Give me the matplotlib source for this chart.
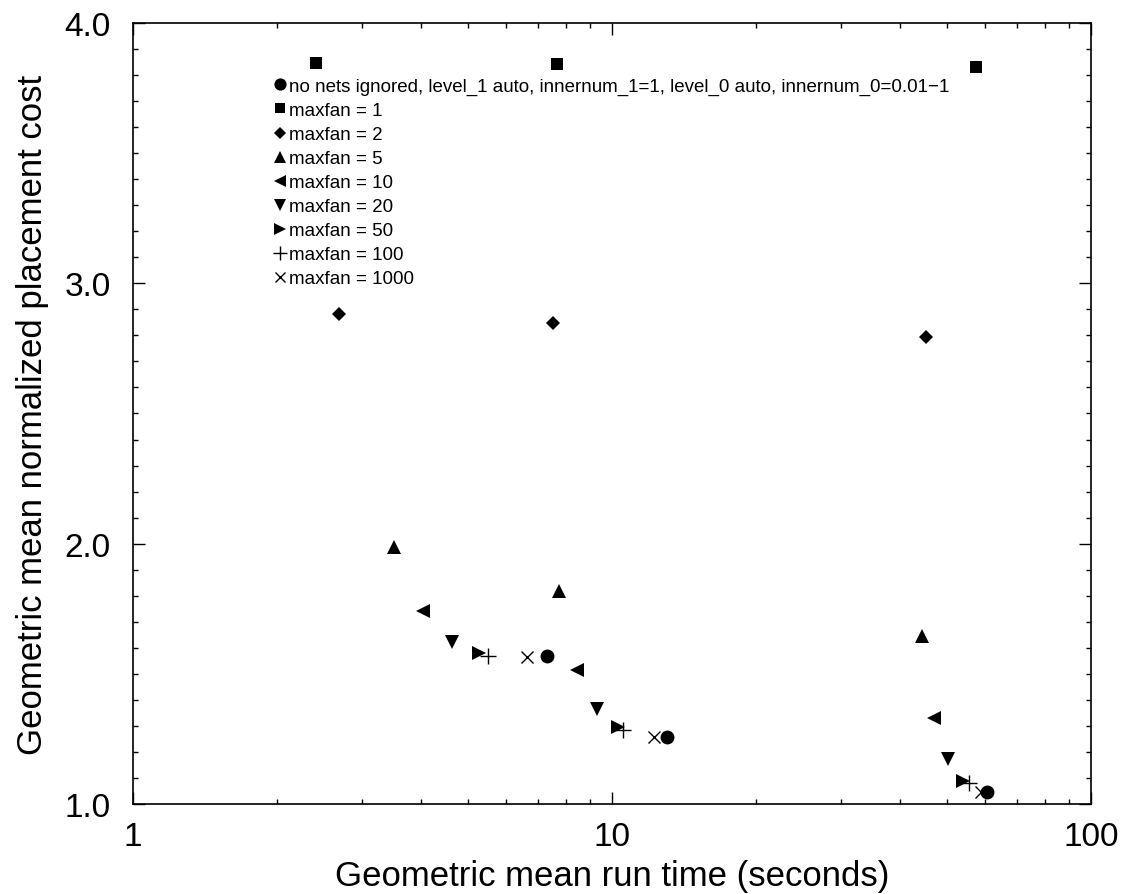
import numpy as np
import matplotlib
matplotlib.use("Agg")
import matplotlib.pyplot as plt
from matplotlib.ticker import LogLocator, MultipleLocator, FixedLocator, FixedFormatter, NullFormatter

plt.rcParams['font.family'] = ['Liberation Sans', 'DejaVu Sans']

# run time (s) and normalized cost for each maxfan setting, three circuits each
t_base = [7.33, 13.0, 60.7]
c_base = [1.567, 1.259, 1.045]
t_f1 = [2.41, 7.68, 57.5]
c_f1 = [3.846, 3.843, 3.831]
t_f2 = [2.69, 7.53, 45.3]
c_f2 = [2.882, 2.848, 2.794]
t_f5 = [3.51, 7.75, 44.4]
c_f5 = [1.986, 1.819, 1.646]
t_f10 = [4.04, 8.47, 47.0]
c_f10 = [1.742, 1.516, 1.330]
t_f20 = [4.64, 9.32, 50.4]
c_f20 = [1.623, 1.365, 1.173]
t_f50 = [5.28, 10.31, 54.0]
c_f50 = [1.579, 1.295, 1.090]
t_f100 = [5.52, 10.53, 55.5]
c_f100 = [1.570, 1.285, 1.079]
t_f1000 = [6.66, 12.24, 58.9]
c_f1000 = [1.566, 1.256, 1.045]

series = [
    (t_base, c_base, 'o', 10, "no nets ignored, level_1 auto, innernum_1=1, level_0 auto, innernum_0=0.01\u22121"),
    (t_f1, c_f1, 's', 8.5, "maxfan = 1"),
    (t_f2, c_f2, 'D', 7.5, "maxfan = 2"),
    (t_f5, c_f5, '^', 10.5, "maxfan = 5"),
    (t_f10, c_f10, '<', 10.5, "maxfan = 10"),
    (t_f20, c_f20, 'v', 10.5, "maxfan = 20"),
    (t_f50, c_f50, '>', 10.5, "maxfan = 50"),
    (t_f100, c_f100, '+', 11, "maxfan = 100"),
    (t_f1000, c_f1000, 'x', 8, "maxfan = 1000"),
]

fig = plt.figure(figsize=(11.25, 8.95), dpi=100)
ax = fig.add_axes([0.1182, 0.1006, 0.8516, 0.8726])

for t, c, m, ms, lab in series:
    ax.plot(t, c, linestyle='none', marker=m, markersize=ms, color='black',
            markeredgewidth=1.0 if m in '+x' else 0, label=lab)

ax.set_xscale('log')
ax.set_xlim(1, 100)
ax.set_ylim(1.0, 4.0)

ax.xaxis.set_major_locator(FixedLocator([1, 10, 100]))
ax.xaxis.set_major_formatter(FixedFormatter(['1', '10', '100']))
ax.xaxis.set_minor_locator(LogLocator(base=10, subs=np.arange(2, 10)))
ax.xaxis.set_minor_formatter(NullFormatter())
ax.yaxis.set_major_locator(MultipleLocator(1.0))
ax.yaxis.set_minor_locator(MultipleLocator(0.1))
ax.yaxis.set_major_formatter(matplotlib.ticker.FormatStrFormatter('%.1f'))

ax.tick_params(which='both', direction='in', top=True, right=True, width=1.0)
ax.tick_params(which='major', length=8.6, labelsize=24)
ax.tick_params(axis='y', which='major', pad=16)
ax.tick_params(axis='x', which='major', pad=12)
ax.tick_params(which='minor', length=3.8)
for s in ax.spines.values():
    s.set_linewidth(1.2)

ax.set_xlabel("Geometric mean run time (seconds)", fontsize=25, labelpad=5)
ax.set_ylabel("Geometric mean normalized placement cost", fontsize=25, labelpad=11)

ax.legend(loc='upper left', bbox_to_anchor=(0.135, 0.942), frameon=False,
          fontsize=13.5, handlelength=0.85, handletextpad=0.08, borderpad=0,
          labelspacing=0.37, markerscale=0.88)

fig.savefig("out.png", dpi=100)
